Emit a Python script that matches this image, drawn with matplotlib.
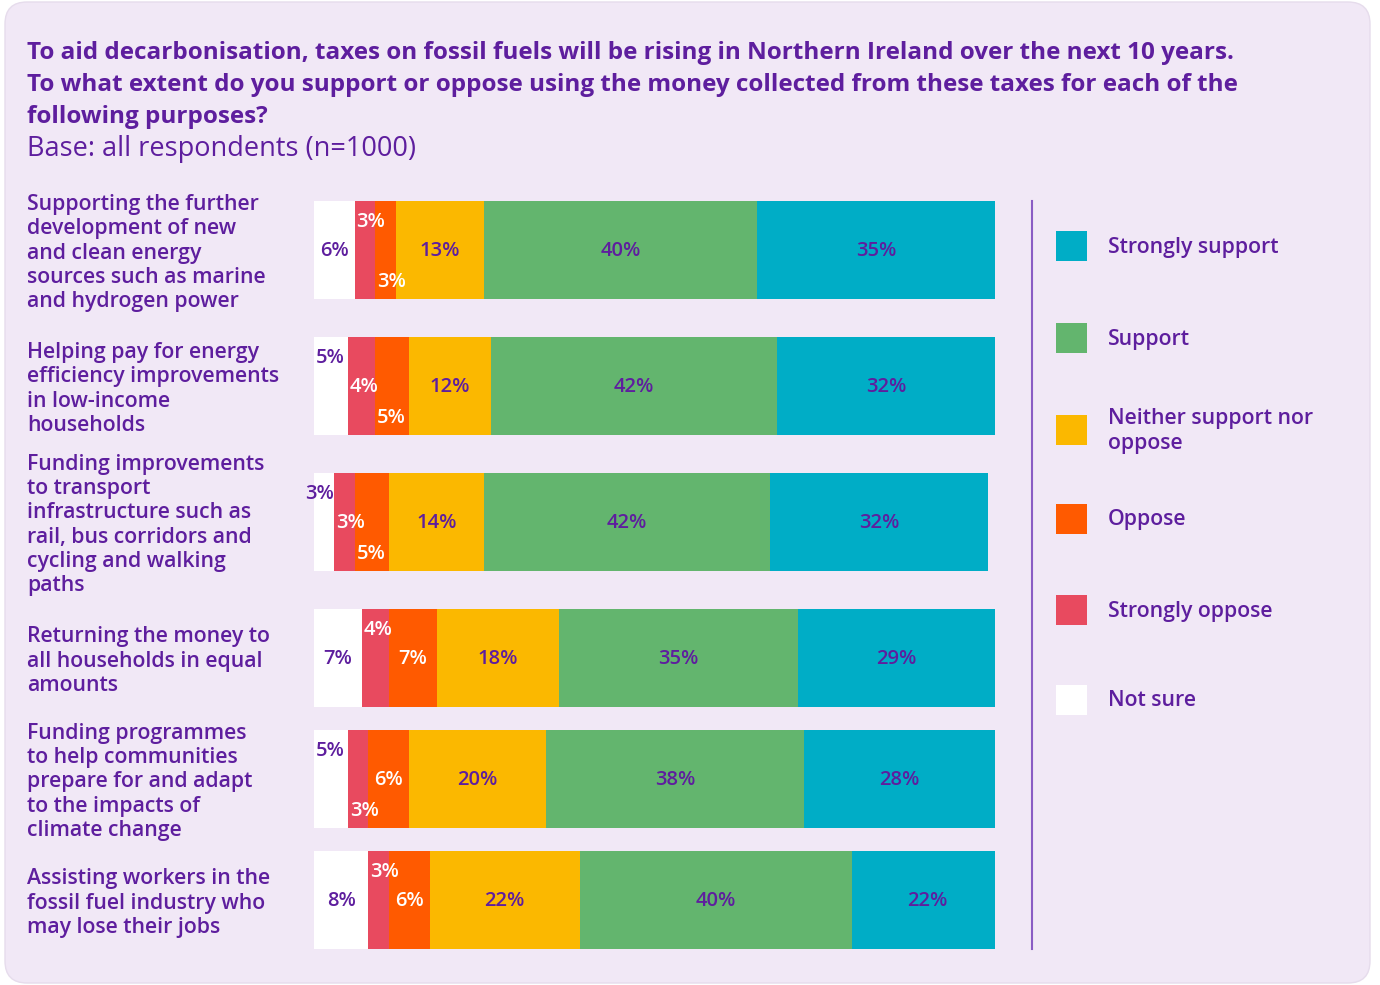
import matplotlib
matplotlib.use("Agg")
import matplotlib.pyplot as plt
from matplotlib.patches import FancyBboxPatch, Rectangle

plt.rcParams['font.family'] = ['Open Sans', 'DejaVu Sans']

# data
categories = [
    "Supporting the further\ndevelopment of new\nand clean energy\nsources such as marine\nand hydrogen power",
    "Helping pay for energy\nefficiency improvements\nin low-income\nhouseholds",
    "Funding improvements\nto transport\ninfrastructure such as\nrail, bus corridors and\ncycling and walking\npaths",
    "Returning the money to\nall households in equal\namounts",
    "Funding programmes\nto help communities\nprepare for and adapt\nto the impacts of\nclimate change",
    "Assisting workers in the\nfossil fuel industry who\nmay lose their jobs",
]
series = ["Not sure", "Strongly oppose", "Oppose", "Neither support nor\noppose", "Support", "Strongly support"]
not_sure = [6, 5, 3, 7, 5, 8]
strongly_oppose = [3, 4, 3, 4, 3, 3]
oppose = [3, 5, 5, 7, 6, 6]
neither = [13, 12, 14, 18, 20, 22]
support = [40, 42, 42, 35, 38, 40]
strongly_support = [35, 32, 32, 29, 28, 22]
values = [not_sure, strongly_oppose, oppose, neither, support, strongly_support]

colors = ['#FFFFFF', '#E84A5F', '#FF5A00', '#FBB800', '#63B56E', '#00ADC6']
text_colors = ['#5E1E9E', '#FFFFFF', '#FFFFFF', '#5E1E9E', '#5E1E9E', '#5E1E9E']
purple = '#5E1E9E'
bg = '#F1E8F6'

# layout (pixel units)
W, H = 1380, 985
row_y = [250, 386, 522, 658, 779, 900]
bar_h = 98
label_pos = [
    ['mid', 'top', 'bot'],
    ['top', 'mid', 'bot'],
    ['top', 'mid', 'bot'],
    ['mid', 'top', 'mid'],
    ['top', 'bot', 'mid'],
    ['mid', 'top', 'mid'],
]
voff = {'top': -29, 'mid': 0, 'bot': 31}

fig = plt.figure(figsize=(W / 100, H / 100), dpi=100)
fig.patch.set_facecolor('white')

# background axes in pixel coords
bgax = fig.add_axes([0, 0, 1, 1], zorder=0)
bgax.set_xlim(0, W)
bgax.set_ylim(H, 0)
bgax.axis('off')
bgax.add_patch(FancyBboxPatch((5, 2), 1365, 981, boxstyle="round,pad=0,rounding_size=22",
                              facecolor=bg, edgecolor='#E6DCEC', lw=1))

title = ["To aid decarbonisation, taxes on fossil fuels will be rising in Northern Ireland over the next 10 years.",
         "To what extent do you support or oppose using the money collected from these taxes for each of the",
         "following purposes?"]
for j, line in enumerate(title):
    bgax.text(27, 53 + 32 * j, line, fontsize=17.5, fontweight='bold', color=purple, va='center', ha='left')
bgax.text(27, 149, "Base: all respondents (n=1000)", fontsize=19.5, color=purple, va='center', ha='left')

for cat, y in zip(categories, row_y):
    bgax.text(27, y + 3, cat, fontsize=15.3, fontweight='semibold', color=purple, va='center', ha='left',
              linespacing=1.21)

# divider
bgax.plot([1032, 1032], [201, 949], color='#8A5CC4', lw=1.5)

# legend
leg_y = [246, 338, 430, 519, 610, 700]
for name, col, y in zip(series[::-1], colors[::-1], leg_y):
    bgax.add_patch(Rectangle((1056, y - 15), 31, 30, facecolor=col, edgecolor='none'))
    bgax.text(1108, y + 1, name, fontsize=15.3, fontweight='semibold', color=purple, va='center', ha='left',
              linespacing=1.3)

# bars
ax = fig.add_axes([314 / W, 1 - 949 / H, 681 / W, 748 / H], zorder=1)
ax.patch.set_alpha(0)
ax.set_xlim(0, 100)
ax.set_ylim(949, 201)
ax.axis('off')

left = [0] * len(categories)
for k, (vals, col, tc) in enumerate(zip(values, colors, text_colors)):
    ax.barh(row_y, vals, left=left, height=bar_h, color=col, edgecolor='none')
    for i, v in enumerate(vals):
        x0 = left[i]
        y = row_y[i] + 1
        if k < 3:
            y = y + voff[label_pos[i][k]]
        if v >= 6 or k >= 3:
            x, ha = x0 + v / 2, 'center'
        elif k == 0 and v <= 3:
            x, ha = x0 + v - 0.1, 'right'
        else:
            x, ha = x0 + 0.25, 'left'
        ax.text(x, y, f"{v}%", color=tc, fontsize=14.5, fontweight='semibold', ha=ha, va='center', clip_on=False)
    left = [a + b for a, b in zip(left, vals)]

fig.savefig("out.png", dpi=100, facecolor='white')
